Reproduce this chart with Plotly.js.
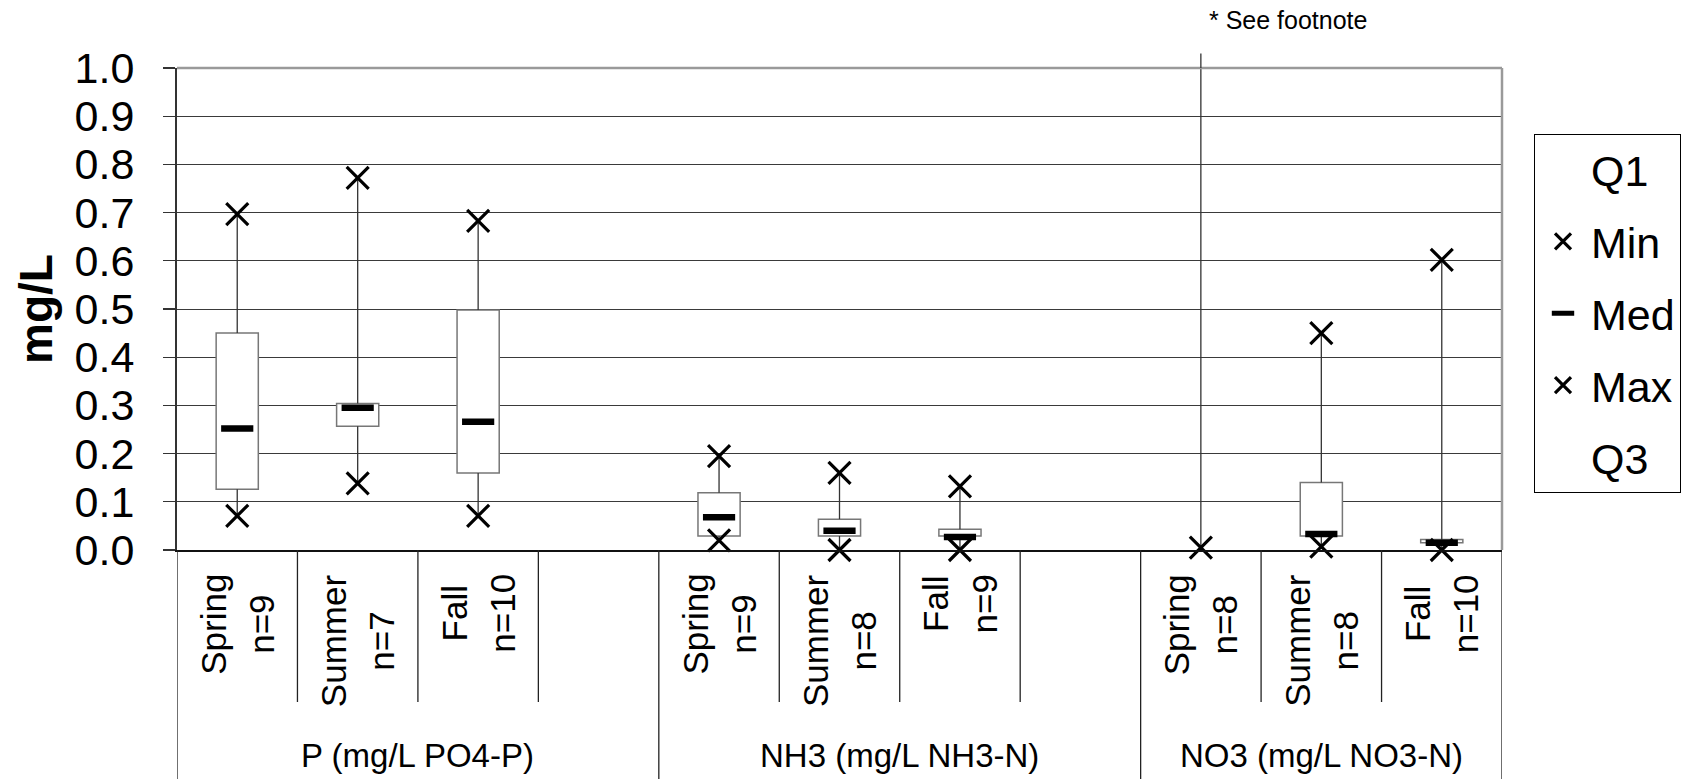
<!DOCTYPE html>
<html>
<head>
<meta charset="utf-8">
<script src="https://cdn.plot.ly/plotly-3.0.1.min.js"></script>
<style>html,body{margin:0;padding:0;background:#fff;}#chart{width:1694px;height:779px;}</style>
</head>
<body>
<div id="chart"></div>
<script>
// ---- data ----
const groups = ['P (mg/L PO4-P)', 'NH3 (mg/L NH3-N)', 'NO3 (mg/L NO3-N)'];
const seasons = ['Spring', 'Summer', 'Fall'];
const sampleN = [9, 7, 10, 9, 8, 9, 8, 8, 10];
const q1Vals  = [0.126, 0.257, 0.160, 0.029, 0.029, 0.029, null, 0.029, 0.015];
const medVals = [0.252, 0.295, 0.266, 0.068, 0.040, 0.027, null, 0.033, 0.015];
const q3Vals  = [0.450, 0.304, 0.498, 0.119, 0.064, 0.043, null, 0.140, 0.022];
const minVals = [0.071, 0.138, 0.071, 0.020, 0.000, 0.000, 0.005, 0.007, 0.000];
const maxVals = [0.697, 0.772, 0.683, 0.195, 0.160, 0.132, 1.03, 0.450, 0.602]; // NO3 spring max is off scale (see footnote)
const yTicks = [0, 0.1, 0.2, 0.3, 0.4, 0.5, 0.6, 0.7, 0.8, 0.9, 1.0];
const yRange = [0, 1];
const yTitle = 'mg/L';
const footnote = '* See footnote';

// ---- layout helpers ----
const slotsPerGroup = seasons.length + 1;          // one empty slot between groups
const nSlots = groups.length * slotsPerGroup - 1;  // 11
const xs = [], labels = [];
const lblSpan = t => '<span style="font-size:35px">' + t + '</span>';
groups.forEach((g, gi) => seasons.forEach((s, si) => {
  xs.push(gi * slotsPerGroup + si);
  labels.push(lblSpan(s) + '<br>' + lblSpan('n=' + sampleN[gi * seasons.length + si]));
}));

const FONT = 'Liberation Sans, Arial, Helvetica, sans-serif';
const traces = [];

// boxes (Q1..Q3)
traces.push({
  type: 'bar', x: xs, base: q1Vals,
  y: q3Vals.map((v, i) => (v === null || q1Vals[i] === null) ? null : v - q1Vals[i]),
  width: 0.35, marker: {color: '#ffffff', line: {color: '#777777', width: 1.5}},
  showlegend: false, hoverinfo: 'skip'
});

// whiskers (min..Q1 and Q3..max, hidden inside the box)
const wx = [], wy = [];
xs.forEach((x, i) => {
  if (q1Vals[i] === null) { wx.push(x, x, null); wy.push(minVals[i], maxVals[i], null); }
  else {
    wx.push(x, x, null, x, x, null);
    wy.push(minVals[i], q1Vals[i], null, q3Vals[i], maxVals[i], null);
  }
});
traces.push({type: 'scatter', mode: 'lines', x: wx, y: wy, line: {color: '#333', width: 1.3},
  showlegend: false, hoverinfo: 'skip', cliponaxis: false, connectgaps: false});

const invisible = {color: 'rgba(0,0,0,0)', size: 1};
const xMark = {symbol: 'x-thin', size: 22, color: '#000', line: {color: '#000', width: 3.2}};
traces.push({type: 'scatter', mode: 'markers', name: 'Q1', x: xs, y: q1Vals, marker: invisible, cliponaxis: false, legendgroup: 'a'});
traces.push({type: 'scatter', mode: 'markers', name: 'Min', x: xs, y: minVals, marker: xMark, cliponaxis: false, legendgroup: 'b'});
traces.push({type: 'scatter', mode: 'markers', name: 'Med', x: xs, y: medVals,
  marker: {symbol: 'line-ew', size: 23, color: '#000', line: {color: '#000', width: 6.5}}, cliponaxis: false, legendgroup: 'c'});
traces.push({type: 'scatter', mode: 'markers', name: 'Max', x: xs, y: maxVals.map(v => v > yRange[1] ? null : v), marker: xMark, cliponaxis: false, legendgroup: 'd'});
traces.push({type: 'scatter', mode: 'markers', name: 'Q3', x: xs, y: q3Vals, marker: invisible, cliponaxis: false, legendgroup: 'e'});

// ---- shapes: plot border (top/right), off-scale whisker part, category dividers ----
const shapes = [
  {type: 'line', xref: 'paper', yref: 'paper', x0: 0, x1: 1, y0: 1, y1: 1, line: {color: '#9a9a9a', width: 2.5}},
  {type: 'line', xref: 'paper', yref: 'paper', x0: 1, x1: 1, y0: 0, y1: 1, line: {color: '#9a9a9a', width: 2.5}}
];
xs.forEach((x, i) => {
  if (maxVals[i] > yRange[1]) {
    shapes.push({type: 'line', xref: 'x', yref: 'paper', x0: x, x1: x, y0: 1,
      y1: (maxVals[i] - yRange[0]) / (yRange[1] - yRange[0]), line: {color: '#333', width: 1.3}});
  }
});
const plotH = 779 - 68 - 229;
const catDivY = -(702 - 550) / plotH;
const grpDivY = -(779 - 550) / plotH;
for (let k = 0; k <= nSlots; k++) {
  const b = k - 0.5;
  const isGroup = (k % slotsPerGroup === 0) || k === nSlots;
  shapes.push({type: 'line', xref: 'x', yref: 'paper', x0: b, x1: b, y0: 0, y1: isGroup ? grpDivY : catDivY,
    line: {color: '#222', width: 1.3}});
}

// ---- annotations: category labels, group labels, footnote, y title ----
const annotations = [];
xs.forEach((x, i) => annotations.push({
  xref: 'x', yref: 'paper', x: x, y: -(572 - 550) / plotH, xanchor: 'center', yanchor: 'top',
  text: labels[i], textangle: -90, showarrow: false, align: 'center',
  font: {family: FONT, size: 37, color: '#000'}
}));
groups.forEach((g, gi) => {
  const start = gi * slotsPerGroup - 0.5;
  const end = Math.min(start + slotsPerGroup, nSlots - 0.5);
  annotations.push({xref: 'x', yref: 'paper', x: (start + end) / 2, y: -(755 - 550) / plotH,
    xanchor: 'center', yanchor: 'middle', text: g, showarrow: false,
    font: {family: FONT, size: 33, color: '#000'}});
});
annotations.push({xref: 'x', yref: 'paper', x: xs[6], y: (550 - 20) / plotH, xanchor: 'left', yanchor: 'middle',
  xshift: 6, text: footnote, showarrow: false, font: {family: FONT, size: 25, color: '#000'}});
annotations.push({xref: 'paper', yref: 'paper', x: (36 - 177) / 1325, y: 0.5, xanchor: 'center', yanchor: 'middle',
  text: '<b>' + yTitle + '</b>', textangle: -90, showarrow: false, font: {family: FONT, size: 46, color: '#000'}});

const layout = {
  width: 1694, height: 779,
  margin: {l: 177, r: 192, t: 68, b: 229, pad: 0},
  paper_bgcolor: '#fff', plot_bgcolor: '#fff',
  font: {family: FONT, color: '#000'},
  barmode: 'overlay',
  xaxis: {range: [-0.5, nSlots - 0.5], showgrid: false, zeroline: false, showticklabels: false,
    ticks: '', showline: true, linecolor: '#111', linewidth: 2, fixedrange: true},
  yaxis: {range: yRange, tickvals: yTicks, ticktext: yTicks.map(v => v.toFixed(1)),
    showgrid: true, gridcolor: '#3a3a3a', gridwidth: 1, zeroline: false,
    ticks: 'outside', ticklen: 12, tickcolor: '#333', tickwidth: 1.2,
    showline: true, linecolor: '#333', linewidth: 2,
    tickfont: {family: FONT, size: 43, color: '#000'}, ticklabelstandoff: 20},
  showlegend: true,
  legend: {x: (1534 - 177) / (1694 - 177 - 192), xanchor: 'left', y: (550 - 134) / plotH, yanchor: 'top',
    bgcolor: '#fff', bordercolor: '#000', borderwidth: 1, tracegroupgap: 13,
    font: {family: FONT, size: 43, color: '#000'}, itemwidth: 46},
  shapes: shapes,
  annotations: annotations
};

Plotly.newPlot('chart', traces, layout, {displayModeBar: false, staticPlot: true});
</script>
</body>
</html>
